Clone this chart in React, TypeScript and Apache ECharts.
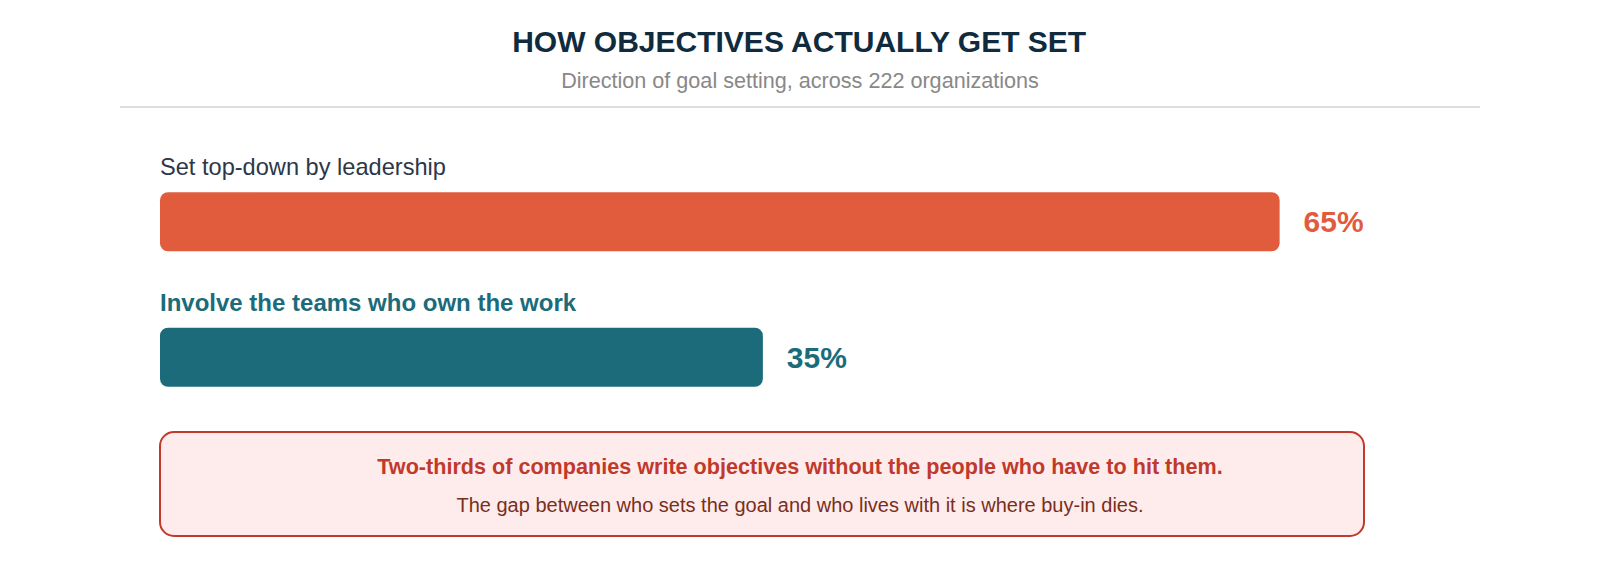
import React, { useEffect, useRef } from "react";
import * as echarts from "echarts";

const titleText = "HOW OBJECTIVES ACTUALLY GET SET";
const subtitleText = "Direction of goal setting, across 222 organizations";
const categories = ["Set top-down by leadership", "Involve the teams who own the work"];
const values = [65, 35];
const axisMax = 83.6;
const barColors = ["#e05c3c", "#1b6b7a"];
const labelColors = ["#2d3748", "#1b6b7a"];
const labelWeights = ["normal", "bold"];
const labelSizes = [23.6, 24];
const calloutHeadline = "Two-thirds of companies write objectives without the people who have to hit them.";
const calloutBody = "The gap between who sets the goal and who lives with it is where buy-in dies.";

const FONT = "'Liberation Sans', Arial, Helvetica, sans-serif";

export default function App() {
  const ref = useRef<HTMLDivElement>(null);

  useEffect(() => {
    if (!ref.current) return;
    const chart = echarts.init(ref.current, null, { renderer: "svg" });

    const option: any = {
      animation: false,
      backgroundColor: "#ffffff",
      textStyle: { fontFamily: FONT },
      grid: { left: 160, top: 154, right: 0, height: 271 },
      xAxis: {
        type: "value",
        min: 0,
        max: axisMax,
        show: false,
      },
      yAxis: {
        type: "category",
        data: categories,
        inverse: true,
        show: false,
      },
      series: [
        {
          name: "share",
          type: "bar",
          barWidth: 59,
          barGap: "-100%",
          z: 3,
          data: values.map((v, i) => ({
            value: v,
            itemStyle: { color: barColors[i], borderRadius: 8 },
            label: { color: barColors[i] },
          })),
          label: {
            show: true,
            position: "right",
            distance: 24,
            fontSize: 30,
            fontWeight: "bold",
            fontFamily: FONT,
            formatter: (p: any) => `${p.value}%`,
          },
        },
        {
          name: "labels",
          type: "bar",
          barWidth: 59,
          barGap: "-100%",
          silent: true,
          z: 2,
          data: values.map((v, i) => ({
            value: v,
            itemStyle: { color: "rgba(0,0,0,0)" },
            label: { color: labelColors[i], fontWeight: labelWeights[i], fontSize: labelSizes[i] },
          })),
          label: {
            show: true,
            position: [0, -25],
            align: "left",
            verticalAlign: "middle",
            fontSize: 24,
            fontFamily: FONT,
            formatter: (p: any) => categories[p.dataIndex],
          },
        },
      ],
      graphic: [
        {
          type: "text",
          left: "center",
          top: 26,
          style: {
            text: titleText,
            fontSize: 30,
            fontWeight: "bold",
            fontFamily: FONT,
            fill: "#0f2b3d",
          },
        },
        {
          type: "text",
          left: "center",
          top: 69,
          style: {
            text: subtitleText,
            fontSize: 21.6,
            fontFamily: FONT,
            fill: "#888888",
          },
        },
        {
          type: "line",
          shape: { x1: 120, y1: 107, x2: 1480, y2: 107 },
          style: { stroke: "#dddddd", lineWidth: 2 },
        },
        {
          type: "rect",
          shape: { x: 160, y: 432, width: 1204, height: 104, r: 14 },
          style: { fill: "#fdeceb", stroke: "#c0392b", lineWidth: 2 },
        },
        {
          type: "text",
          x: 800,
          y: 466,
          style: {
            text: calloutHeadline,
            fontSize: 21.6,
            fontWeight: "bold",
            fontFamily: FONT,
            fill: "#c0392b",
            align: "center",
            verticalAlign: "middle",
          },
        },
        {
          type: "text",
          x: 800,
          y: 505,
          style: {
            text: calloutBody,
            fontSize: 20,
            fontFamily: FONT,
            fill: "#7a2e1b",
            align: "center",
            verticalAlign: "middle",
          },
        },
      ],
    };

    chart.setOption(option);
    return () => chart.dispose();
  }, []);

  return (
    <div
      ref={ref}
      style={{ position: "fixed", left: 0, top: 0, width: 1600, height: 580 }}
    />
  );
}
